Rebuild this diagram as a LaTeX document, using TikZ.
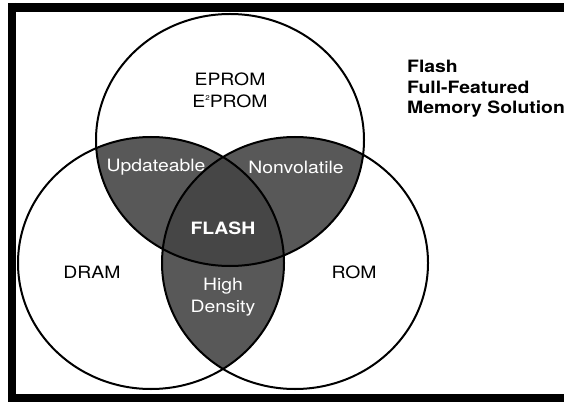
\documentclass[tikz,border=0pt]{standalone}
\usepackage{fontspec}
\setmainfont{TeX Gyre Heros}[FakeStretch=1.14]
\begin{document}
\begin{tikzpicture}[x=1pt,y=-1pt]
\tikzset{
  venn/.style={draw=black, line width=2pt},
  lbl/.style={font=\fontsize{17}{22}\selectfont, align=center, inner sep=0pt},
  wlbl/.style={lbl, text=white},
  frame/.style={draw=black, line width=8.5pt},
}
\definecolor{pairgray}{RGB}{88,88,88}
\definecolor{coregray}{RGB}{70,70,70}
\useasboundingbox (0,0) rectangle (564,403);
\clip (0,0) rectangle (564,403);
\fill[white] (0,0) rectangle (564,403);
% pairwise overlaps
\begin{scope}
  \clip (230,140) ellipse [x radius=134pt, y radius=126pt];
  \fill[pairgray] (151,263) ellipse [x radius=133pt, y radius=126pt];
  \fill[pairgray] (295,263) ellipse [x radius=133pt, y radius=126pt];
\end{scope}
\begin{scope}
  \clip (151,263) ellipse [x radius=133pt, y radius=126pt];
  \fill[pairgray] (295,263) ellipse [x radius=133pt, y radius=126pt];
\end{scope}
% triple overlap
\begin{scope}
  \clip (230,140) ellipse [x radius=134pt, y radius=126pt];
  \clip (151,263) ellipse [x radius=133pt, y radius=126pt];
  \fill[coregray] (295,263) ellipse [x radius=133pt, y radius=126pt];
\end{scope}
% outlines
\draw[venn] (230,140) ellipse [x radius=134pt, y radius=126pt];
\draw[venn] (151,263) ellipse [x radius=133pt, y radius=126pt];
\draw[venn] (295,263) ellipse [x radius=133pt, y radius=126pt];
% frame
\draw[frame] (12,7.5) -- (600,7.5);
\draw[frame] (12,3) -- (12,402);
\draw[frame] (8,398) -- (600,398);
% labels
\node[lbl] (eprom) at (230,90) {EPROM\\E\raisebox{0.75ex}{\fontsize{7}{7}\selectfont 2}PROM};
\node[wlbl] (upd) at (156,167) {Updateable};
\node[wlbl] (nonvol) at (296,167) {Nonvolatile};
\node[wlbl, font=\fontsize{17}{22}\selectfont\bfseries] (flash) at (223,228) {FLASH};
\node[lbl] (dram) at (92,272) {DRAM};
\node[lbl] (rom) at (354,272) {ROM};
\node[wlbl] (dens) at (223,297) {High\\Density};
\node[lbl, align=left, anchor=north west, font=\fontsize{17}{20.5}\selectfont\bfseries] (title) at (407,60) {Flash\\Full-Featured\\Memory Solution};
\end{tikzpicture}
\end{document}
